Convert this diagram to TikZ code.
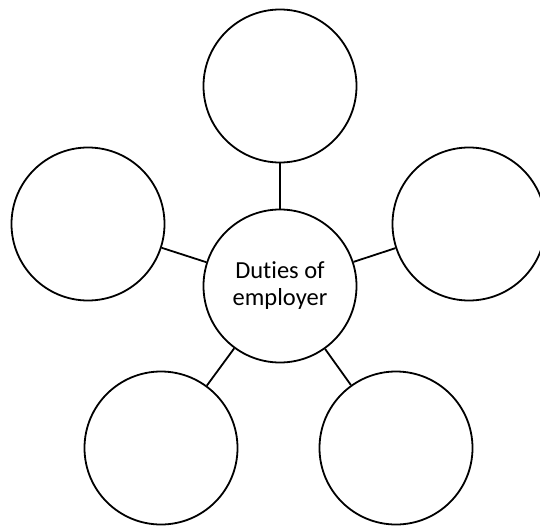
\documentclass[tikz,border=0pt]{standalone}
\usepackage{fontspec}
\setmainfont{Carlito}[Ligatures=NoCommon]
\begin{document}
\begin{tikzpicture}[x=1pt,y=-1pt,
  bubble/.style={circle,draw=black,line width=1.8pt,minimum size=153pt,inner sep=0pt,fill=white,align=center},
  link/.style={draw=black,line width=1.8pt}]
\useasboundingbox (0,0) rectangle (540,527);
\node[bubble,font=\fontsize{24.5}{27}\selectfont] (c) at (280,286) {Duties of\\employer};
\node[bubble] (t) at (280,86) {};
\node[bubble] (l) at (88,224) {};
\node[bubble] (r) at (469,224) {};
\node[bubble] (bl) at (161,448) {};
\node[bubble] (br) at (396,448) {};
\foreach \n in {t,l,r,bl,br} \draw[link] (c) -- (\n);
\end{tikzpicture}
\end{document}
